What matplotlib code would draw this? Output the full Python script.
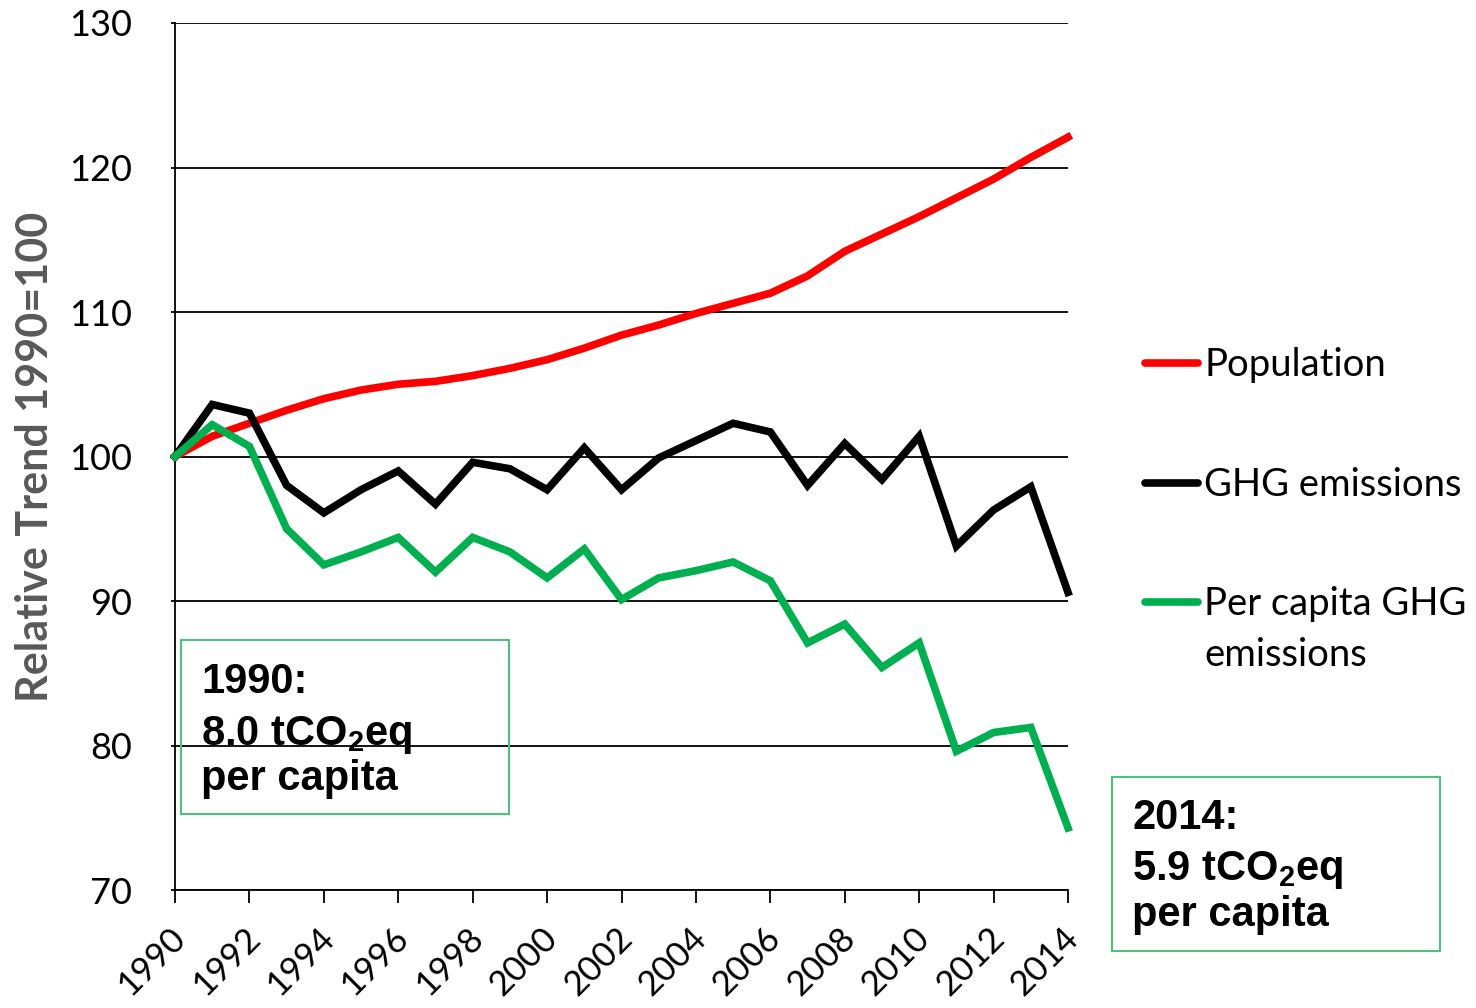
import matplotlib
matplotlib.use("Agg")
import matplotlib.pyplot as plt
import matplotlib.transforms as mtransforms
from matplotlib.patches import Rectangle
from matplotlib.lines import Line2D

# data (index 1990 = 100)
years = list(range(1990, 2015))
population = [100.0, 101.4, 102.3, 103.2, 104.0, 104.6, 105.0, 105.2, 105.6, 106.1,
              106.7, 107.5, 108.4, 109.1, 109.9, 110.6, 111.3, 112.5, 114.2, 115.4,
              116.6, 117.9, 119.2, 120.7, 122.1]
ghg = [100.0, 103.6, 103.0, 98.0, 96.1, 97.7, 99.0, 96.7, 99.6, 99.15,
       97.7, 100.6, 97.7, 99.9, 101.1, 102.3, 101.7, 98.0, 100.9, 98.4,
       101.4, 93.8, 96.3, 97.9, 90.6]
per_capita = [100.0, 102.2, 100.7, 95.0, 92.5, 93.4, 94.4, 92.0, 94.4, 93.4,
              91.6, 93.6, 90.1, 91.6, 92.1, 92.7, 91.4, 87.1, 88.4, 85.4,
              87.1, 79.6, 80.9, 81.25, 74.3]
series_names = ["Population", "GHG emissions", "Per capita GHG\nemissions"]
series_colors = ["#FF0000", "#000000", "#00B050"]
xticks = list(range(1990, 2015, 2))
yticks = [70, 80, 90, 100, 110, 120, 130]

plt.rcParams["font.family"] = ["Lato", "DejaVu Sans"]
plt.rcParams["mathtext.fontset"] = "custom"
plt.rcParams["mathtext.rm"] = "Liberation Sans:bold"
plt.rcParams["mathtext.bf"] = "Liberation Sans:bold"

fig = plt.figure(figsize=(14.76, 10.08), dpi=100)
ax = fig.add_axes([175 / 1476, 1 - 890 / 1008, 893 / 1476, 867 / 1008])

for vals, col in zip([population, ghg, per_capita], series_colors):
    ax.plot(years, vals, color=col, lw=5.5, solid_joinstyle="miter", zorder=3, clip_on=False)

ax.set_xlim(1990, 2014)
ax.set_ylim(70, 130)
ax.set_xticks(xticks)
ax.set_xticklabels([str(x) for x in xticks], rotation=45, ha="right",
                   rotation_mode="anchor", fontsize=25)
ax.set_yticks(yticks)
ax.set_yticklabels([str(y) for y in yticks], fontsize=26)
ax.tick_params(axis="x", direction="out", length=9, width=1.3, pad=14)
ax.tick_params(axis="y", direction="out", length=3, width=1.3, pad=28)
ax.grid(axis="y", color="black", lw=1.3)
ax.set_axisbelow(True)
for s in ["top", "right"]:
    ax.spines[s].set_visible(False)
for s in ["left", "bottom"]:
    ax.spines[s].set_linewidth(1.3)

# nudge the rotated year labels a little to the left
shift = mtransforms.ScaledTranslation(-6 / 100, 0, fig.dpi_scale_trans)
for lbl in ax.get_xticklabels():
    lbl.set_transform(lbl.get_transform() + shift)

fig.text(35 / 1476, 1 - 457 / 1008, "Relative Trend 1990=100", rotation=90,
         ha="center", va="center", fontsize=31, fontweight="bold", color="#595959")

# legend drawn by hand, to the right of the plot
leg_base = [376, 496, 615]
for name, col, yb in zip(series_names, series_colors, leg_base):
    yl = 1 - (yb - 13) / 1008
    fig.add_artist(Line2D([1145 / 1476, 1198 / 1476], [yl, yl], color=col, lw=5.5,
                          solid_capstyle="round"))
    for i, part in enumerate(name.split("\n")):
        fig.text(1204 / 1476, 1 - (yb + 51 * i) / 1008, part, fontsize=27.5,
                 va="baseline", ha="left")

# annotation boxes
boxes = [
    (181, 640, ["1990:", r"8.0 tCO$_{2}$eq", "per capita"], [693, 745, 790]),
    (1112, 777, ["2014:", r"5.9 tCO$_{2}$eq", "per capita"], [829, 880, 926]),
]
for x0, y0, lines, bases in boxes:
    fig.add_artist(Rectangle((x0 / 1476, 1 - (y0 + 174) / 1008), 328 / 1476, 174 / 1008,
                             fill=False, edgecolor="#4DC27F", lw=1.5))
    for txt, yb in zip(lines, bases):
        fig.text((x0 + 20) / 1476, 1 - yb / 1008, txt, fontsize=30, fontweight="bold",
                 family=["Liberation Sans", "DejaVu Sans"], va="baseline", ha="left")

fig.savefig("out.png", dpi=100)
